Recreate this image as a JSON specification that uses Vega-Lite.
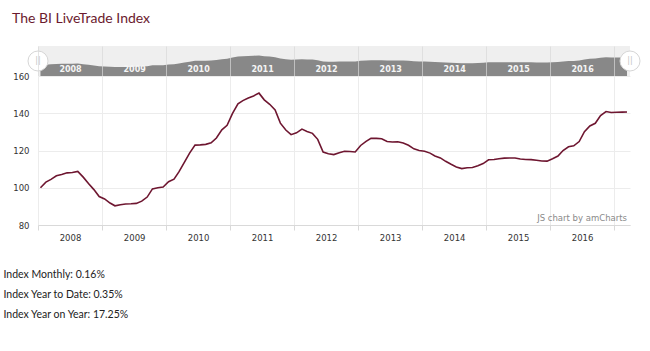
{
  "$schema": "https://vega.github.io/schema/vega-lite/v6.json",
  "padding": {"left": 3, "top": 12, "right": 0, "bottom": 0},
  "background": "#ffffff",
  "spacing": 0,
  "bounds": "flush",
  "title": {"text": "The BI LiveTrade Index", "anchor": "start", "font": "Lato", "fontSize": 14, "fontWeight": "normal", "color": "#6b1a2e", "offset": 20, "dx": 9},
  "config": {"view": {"stroke": null}},
  "datasets": {
    "series": [
      {"date": "2008-01-15", "value": 100}, {"date": "2008-02-15", "value": 103}, {"date": "2008-03-15", "value": 104.5}, {"date": "2008-04-15", "value": 106.4},
      {"date": "2008-05-15", "value": 107.1}, {"date": "2008-06-15", "value": 108}, {"date": "2008-07-15", "value": 108.2}, {"date": "2008-08-15", "value": 108.8},
      {"date": "2008-09-15", "value": 105.7}, {"date": "2008-10-15", "value": 102.3}, {"date": "2008-11-15", "value": 99}, {"date": "2008-12-15", "value": 95.3},
      {"date": "2009-01-15", "value": 94}, {"date": "2009-02-15", "value": 91.8}, {"date": "2009-03-15", "value": 90.3}, {"date": "2009-04-15", "value": 90.9},
      {"date": "2009-05-15", "value": 91.3}, {"date": "2009-06-15", "value": 91.4}, {"date": "2009-07-15", "value": 91.6}, {"date": "2009-08-15", "value": 92.8},
      {"date": "2009-09-15", "value": 95}, {"date": "2009-10-15", "value": 99.4}, {"date": "2009-11-15", "value": 100}, {"date": "2009-12-15", "value": 100.4},
      {"date": "2010-01-15", "value": 103.2}, {"date": "2010-02-15", "value": 104.6}, {"date": "2010-03-15", "value": 108.5}, {"date": "2010-04-15", "value": 113.6},
      {"date": "2010-05-15", "value": 118.6}, {"date": "2010-06-15", "value": 122.9}, {"date": "2010-07-15", "value": 123}, {"date": "2010-08-15", "value": 123.3},
      {"date": "2010-09-15", "value": 124.1}, {"date": "2010-10-15", "value": 126.7}, {"date": "2010-11-15", "value": 131.1}, {"date": "2010-12-15", "value": 133.5},
      {"date": "2011-01-15", "value": 139.9}, {"date": "2011-02-15", "value": 145.1}, {"date": "2011-03-15", "value": 146.8}, {"date": "2011-04-15", "value": 148.2},
      {"date": "2011-05-15", "value": 149.3}, {"date": "2011-06-15", "value": 150.8}, {"date": "2011-07-15", "value": 147.2}, {"date": "2011-08-15", "value": 144.8},
      {"date": "2011-09-15", "value": 141.8}, {"date": "2011-10-15", "value": 134.7}, {"date": "2011-11-15", "value": 131}, {"date": "2011-12-15", "value": 128.5},
      {"date": "2012-01-15", "value": 129.5}, {"date": "2012-02-15", "value": 131.5}, {"date": "2012-03-15", "value": 130.2}, {"date": "2012-04-15", "value": 129.2},
      {"date": "2012-05-15", "value": 126}, {"date": "2012-06-15", "value": 119.2}, {"date": "2012-07-15", "value": 118.3}, {"date": "2012-08-15", "value": 117.8},
      {"date": "2012-09-15", "value": 118.8}, {"date": "2012-10-15", "value": 119.6}, {"date": "2012-11-15", "value": 119.5}, {"date": "2012-12-15", "value": 119.2},
      {"date": "2013-01-15", "value": 122.7}, {"date": "2013-02-15", "value": 124.9}, {"date": "2013-03-15", "value": 126.5}, {"date": "2013-04-15", "value": 126.5},
      {"date": "2013-05-15", "value": 126.3}, {"date": "2013-06-15", "value": 124.8}, {"date": "2013-07-15", "value": 124.6}, {"date": "2013-08-15", "value": 124.7},
      {"date": "2013-09-15", "value": 124}, {"date": "2013-10-15", "value": 122.8}, {"date": "2013-11-15", "value": 120.9}, {"date": "2013-12-15", "value": 120},
      {"date": "2014-01-15", "value": 119.6}, {"date": "2014-02-15", "value": 118.6}, {"date": "2014-03-15", "value": 117.1}, {"date": "2014-04-15", "value": 116},
      {"date": "2014-05-15", "value": 114.2}, {"date": "2014-06-15", "value": 112.6}, {"date": "2014-07-15", "value": 111.2}, {"date": "2014-08-15", "value": 110.3},
      {"date": "2014-09-15", "value": 110.7}, {"date": "2014-10-15", "value": 110.9}, {"date": "2014-11-15", "value": 111.8}, {"date": "2014-12-15", "value": 113},
      {"date": "2015-01-15", "value": 115}, {"date": "2015-02-15", "value": 115.2}, {"date": "2015-03-15", "value": 115.6}, {"date": "2015-04-15", "value": 115.9},
      {"date": "2015-05-15", "value": 116}, {"date": "2015-06-15", "value": 116}, {"date": "2015-07-15", "value": 115.4}, {"date": "2015-08-15", "value": 115.2},
      {"date": "2015-09-15", "value": 115.1}, {"date": "2015-10-15", "value": 114.8}, {"date": "2015-11-15", "value": 114.4}, {"date": "2015-12-15", "value": 114.3},
      {"date": "2016-01-15", "value": 115.6}, {"date": "2016-02-15", "value": 117}, {"date": "2016-03-15", "value": 120}, {"date": "2016-04-15", "value": 122},
      {"date": "2016-05-15", "value": 122.5}, {"date": "2016-06-15", "value": 124.8}, {"date": "2016-07-15", "value": 130.1}, {"date": "2016-08-15", "value": 133.2},
      {"date": "2016-09-15", "value": 134.6}, {"date": "2016-10-15", "value": 138.8}, {"date": "2016-11-15", "value": 140.9}, {"date": "2016-12-15", "value": 140.4},
      {"date": "2017-01-15", "value": 140.5}, {"date": "2017-02-15", "value": 140.6}, {"date": "2017-03-15", "value": 140.7}
    ],
    "handles": [
      {"date": "2008-01-01", "value": 122, "glyph": "||"},
      {"date": "2017-04-01", "value": 122, "glyph": "||"}
    ],
    "credit": [
      {"date": "2017-04-01", "value": 83.8, "label": "JS chart by amCharts"}
    ],
    "stats": [
      {"label": "Index Monthly: 0.16%"},
      {"label": "Index Year to Date: 0.35%"},
      {"label": "Index Year on Year: 17.25%"}
    ]
  },
  "resolve": {"scale": {"x": "independent", "y": "independent"}},
  "vconcat": [
    {
      "width": 592,
      "height": 30,
      "view": {"fill": "#efefef", "stroke": null},
      "layer": [
        {
          "data": {"name": "series"},
          "mark": {"type": "area", "color": "#888888", "interpolate": "linear"},
          "encoding": {
            "x": {
              "field": "date", "type": "temporal",
              "scale": {"domain": ["2008-01-01", "2017-04-01"]},
              "axis": {
                "title": null,
                "values": [{"year": 2008}, {"year": 2009}, {"year": 2010}, {"year": 2011}, {"year": 2012}, {"year": 2013}, {"year": 2014}, {"year": 2015}, {"year": 2016}, {"year": 2017}],
                "labelExpr": "year(datum.value) < 2017 ? timeFormat(datum.value, '%Y') : ''",
                "grid": true, "gridColor": "#d8d8d8", "gridOpacity": 0.7, "zindex": 1,
                "domain": false, "ticks": false, "tickSize": 0,
                "labelPadding": -7, "labelBaseline": "middle", "labelOffset": 32,
                "labelFont": "DejaVu Sans", "labelFontSize": 8, "labelFontWeight": "bold", "labelColor": "#f5f5f5",
                "labelFlush": false, "labelOverlap": false, "labelBound": false
              }
            },
            "y": {"field": "value", "type": "quantitative", "scale": {"domain": [44, 200], "nice": false, "zero": false}, "axis": null},
            "y2": {"datum": 44}
          }
        },
        {
          "data": {"name": "handles"},
          "mark": {"type": "point", "filled": true, "fill": "#ffffff", "stroke": "#d6d6d6", "strokeWidth": 1, "size": 400, "opacity": 1},
          "encoding": {
            "x": {"field": "date", "type": "temporal"},
            "y": {"field": "value", "type": "quantitative"}
          }
        },
        {
          "data": {"name": "handles"},
          "mark": {"type": "text", "font": "DejaVu Sans", "fontSize": 8, "color": "#c4c4c4", "baseline": "middle"},
          "encoding": {
            "x": {"field": "date", "type": "temporal"},
            "y": {"field": "value", "type": "quantitative"},
            "text": {"field": "glyph"}
          }
        }
      ]
    },
    {
      "width": 592,
      "height": 149,
      "encoding": {
        "x": {
          "field": "date", "type": "temporal",
          "scale": {"domain": ["2008-01-01", "2017-04-01"]},
          "axis": {
            "title": null,
            "values": [{"year": 2008}, {"year": 2009}, {"year": 2010}, {"year": 2011}, {"year": 2012}, {"year": 2013}, {"year": 2014}, {"year": 2015}, {"year": 2016}, {"year": 2017}],
            "labelExpr": "year(datum.value) < 2017 ? timeFormat(datum.value, '%Y') : ''",
            "grid": true, "gridColor": "#ececec",
            "domainColor": "#d9d9d9", "tickColor": "#d9d9d9", "tickSize": 5,
            "labelPadding": 3, "labelOffset": 32,
            "labelFont": "DejaVu Sans", "labelFontSize": 8.5, "labelColor": "#333333",
            "labelFlush": false, "labelOverlap": false, "labelBound": false
          }
        },
        "y": {
          "field": "value", "type": "quantitative",
          "scale": {"domain": [80, 160], "nice": false, "zero": false},
          "axis": {
            "title": null, "values": [80, 100, 120, 140, 160], "tickCount": 5,
            "grid": true, "gridColor": "#ececec", "domain": false, "ticks": false,
            "labelOverlap": false, "labelFlush": false,
            "labelPadding": 9, "labelFont": "DejaVu Sans", "labelFontSize": 8.5, "labelColor": "#333333"
          }
        }
      },
      "layer": [
        {
          "data": {"name": "series"},
          "mark": {"type": "line", "color": "#6e1630", "strokeWidth": 1.6}
        },
        {
          "data": {"name": "credit"},
          "mark": {"type": "text", "align": "right", "baseline": "middle", "dx": -3, "font": "DejaVu Sans", "fontSize": 8.5, "color": "#8a8a8a"},
          "encoding": {
            "text": {"field": "label"}
          }
        }
      ]
    },
    {
      "width": 592,
      "height": 99.5,
      "data": {"name": "stats"},
      "mark": {"type": "text"},
      "encoding": {
        "y": {
          "field": "label", "type": "nominal", "sort": null,
          "scale": {"type": "band", "paddingInner": 0, "paddingOuter": 1.118, "align": 1},
          "axis": {
            "title": null, "domain": false, "ticks": false, "grid": false,
            "labelAlign": "left", "labelBaseline": "middle", "labelPadding": 35, "labelLimit": 0,
            "labelFont": "Lato", "labelFontSize": 10.5, "labelColor": "#222222"
          }
        },
        "text": {"value": ""}
      }
    }
  ]
}
